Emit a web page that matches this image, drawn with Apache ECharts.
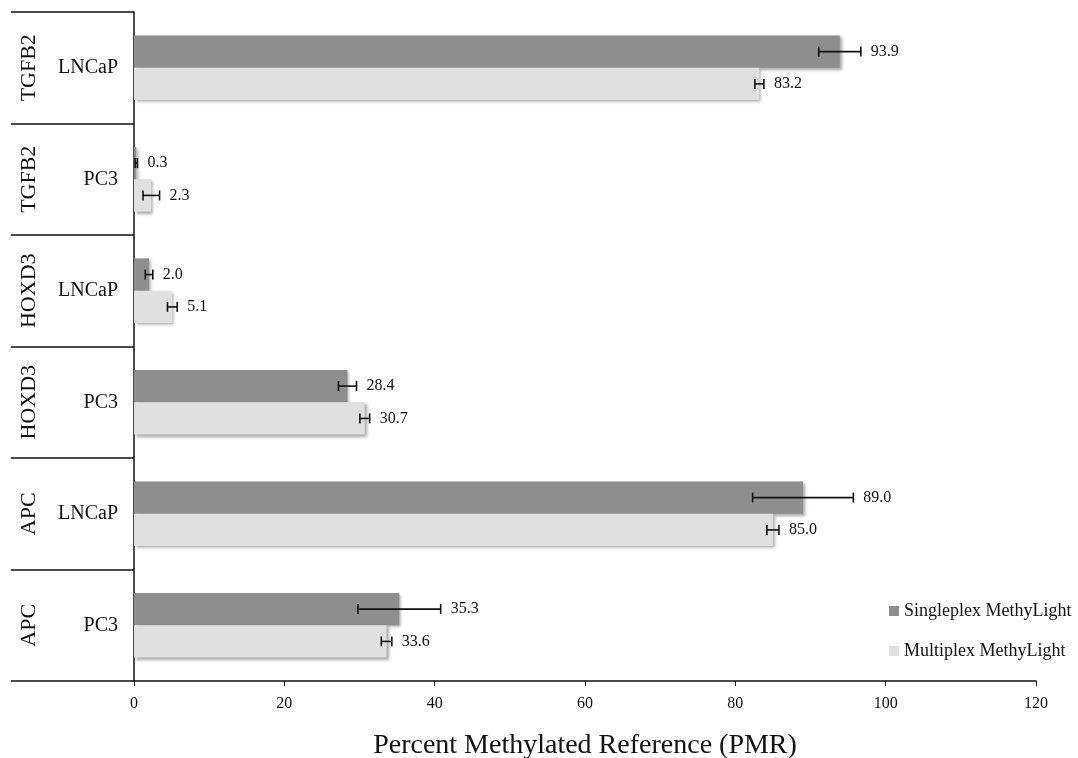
<!DOCTYPE html>
<html>
<head>
<meta charset="utf-8">
<script src="https://cdn.jsdelivr.net/npm/echarts@6/dist/echarts.min.js"></script>
<style>html,body{margin:0;padding:0;background:#fff}#c{width:1078px;height:758px}</style>
</head>
<body>
<div id="c"></div>
<script>
// categories bottom -> top
const cellLines = ['PC3', 'LNCaP', 'PC3', 'LNCaP', 'PC3', 'LNCaP'];
const genes = ['APC', 'APC', 'HOXD3', 'HOXD3', 'TGFB2', 'TGFB2'];
const singleplex = [35.3, 89.0, 28.4, 2.0, 0.3, 93.9];
const singleplexErr = [5.5, 6.7, 1.2, 0.5, 0.15, 2.8];
const multiplex = [33.6, 85.0, 30.7, 5.1, 2.3, 83.2];
const multiplexErr = [0.7, 0.8, 0.65, 0.65, 1.1, 0.6];
const xTicks = [0, 20, 40, 60, 80, 100, 120];

const SERIF = '"Liberation Serif", "DejaVu Serif", serif';
const chart = echarts.init(document.getElementById('c'));

function errSeries(name, vals, errs, sign) {
  return {
    type: 'custom',
    name: name + ' err',
    z: 5,
    encode: { x: 0, y: 1 },
    data: vals.map((v, i) => [v, i, errs[i]]),
    renderItem: function (params, api) {
      const v = api.value(0), c = api.value(1), e = api.value(2);
      const band = api.size([0, 1])[1];
      const p = api.coord([v, c]);
      const y = p[1] + sign * band * 0.145;
      const lo = api.coord([Math.max(v - e, 0), c])[0];
      const hi = api.coord([v + e, c])[0];
      const st = { stroke: '#111', lineWidth: 1.6 };
      return {
        type: 'group',
        children: [
          { type: 'line', shape: { x1: lo, y1: y, x2: hi, y2: y }, style: st },
          { type: 'line', shape: { x1: lo, y1: y - 5, x2: lo, y2: y + 5 }, style: st },
          { type: 'line', shape: { x1: hi, y1: y - 5, x2: hi, y2: y + 5 }, style: st },
          { type: 'text', x: Math.max(hi, p[0]) + 10, y: y,
            style: { text: v.toFixed(1), fill: '#111', font: '16px ' + SERIF,
                     textAlign: 'left', textVerticalAlign: 'middle' } }
        ]
      };
    }
  };
}

const barShadow = { shadowBlur: 3, shadowOffsetX: 2, shadowOffsetY: 2, shadowColor: 'rgba(0,0,0,0.35)' };

chart.setOption({
  animation: false,
  backgroundColor: '#fff',
  grid: { left: 134, right: 42, top: 12, bottom: 77, containLabel: false, outerBoundsMode: 'none' },
  legend: {
    orient: 'vertical',
    left: 884, top: 597,
    itemWidth: 10, itemHeight: 10, itemGap: 22,
    icon: 'rect',
    data: ['Singleplex MethyLight', 'Multiplex MethyLight'],
    textStyle: { fontFamily: SERIF, fontSize: 18, color: '#111' }
  },
  xAxis: {
    type: 'value', min: 0, max: 120, interval: 20,
    name: 'Percent Methylated Reference (PMR)',
    nameLocation: 'middle', nameGap: 51,
    nameTextStyle: { fontFamily: SERIF, fontSize: 28, color: '#111' },
    axisLine: { show: true, lineStyle: { color: '#111', width: 1.5 } },
    axisTick: { show: true, length: 5, lineStyle: { color: '#111' } },
    splitLine: { show: false },
    axisLabel: { fontFamily: SERIF, fontSize: 16, color: '#111', margin: 15,
                 formatter: v => xTicks.includes(v) ? String(v) : '' }
  },
  yAxis: [
    {
      type: 'category', data: cellLines,
      axisLine: { show: true, lineStyle: { color: '#111', width: 1.5 } },
      axisTick: { show: true, length: 123, lineStyle: { color: '#111', width: 1.5 } },
      axisLabel: { fontFamily: SERIF, fontSize: 20, color: '#111', margin: 16 }
    },
    {
      type: 'category', data: genes, position: 'left', offset: 84,
      axisLine: { show: false }, axisTick: { show: false },
      axisLabel: { fontFamily: SERIF, fontSize: 22, color: '#111', rotate: 90, margin: 10 }
    }
  ],
  series: [
    {
      type: 'bar', name: 'Singleplex MethyLight', data: singleplex,
      barWidth: '29%', barGap: '0%',
      itemStyle: Object.assign({ color: '#8e8e8e' }, barShadow)
    },
    {
      type: 'bar', name: 'Multiplex MethyLight', data: multiplex,
      barWidth: '29%', barGap: '0%',
      itemStyle: Object.assign({ color: '#e0e0e0' }, barShadow)
    },
    errSeries('Singleplex', singleplex, singleplexErr, -1),
    errSeries('Multiplex', multiplex, multiplexErr, 1)
  ]
});
</script>
</body>
</html>
